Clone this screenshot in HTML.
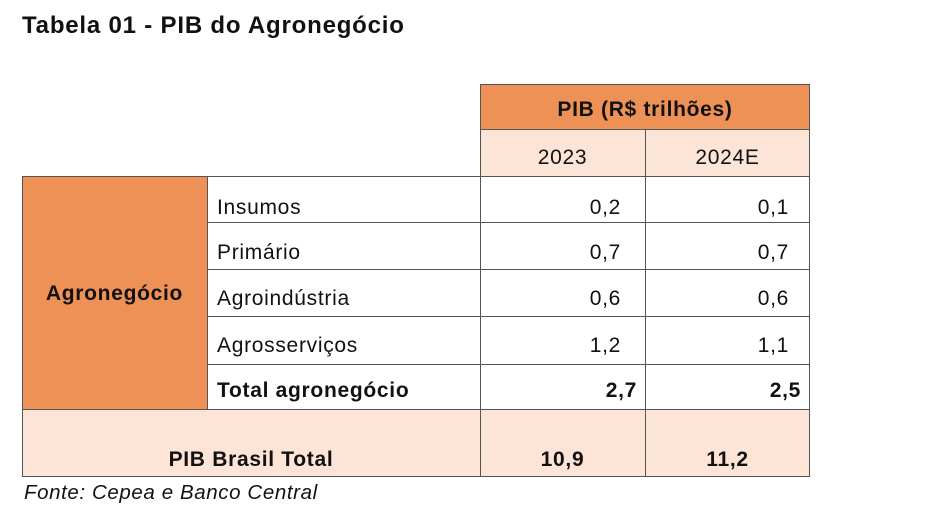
<!DOCTYPE html>
<html><head><meta charset="utf-8"><style>
body{margin:0;width:934px;height:522px;background:#fff;font-family:"Liberation Sans",sans-serif;color:#111;position:relative;overflow:hidden}
.a{position:absolute;box-sizing:border-box}
.t{position:absolute;white-space:nowrap;font-size:21px;line-height:24px;letter-spacing:0.7px}
.ln{position:absolute;background:#555}
</style></head><body>
<div class="t" style="left:22px;top:14px;font-size:24px;font-weight:bold;letter-spacing:0.8px">Tabela 01 - PIB do Agronegócio</div>

<div class="a" style="left:480px;top:84px;width:330px;height:46px;background:#EE9157;border:1px solid #555"></div>
<div class="t" style="left:480px;top:98px;width:330px;text-align:center;font-weight:bold">PIB (R$ trilhões)</div>
<div class="a" style="left:480px;top:130px;width:330px;height:46px;background:#FCE4D6"></div>
<div class="t" style="left:480px;top:146px;width:165px;text-align:center">2023</div>
<div class="t" style="left:645px;top:146px;width:165px;text-align:center">2024E</div>

<div class="a" style="left:22px;top:176px;width:185px;height:233px;background:#EE9157"></div>
<div class="t" style="left:22px;top:282px;width:185px;text-align:center;font-weight:bold">Agronegócio</div>
<div class="a" style="left:22px;top:409px;width:788px;height:67px;background:#FCE4D6"></div>

<div class="ln" style="left:22px;top:176px;width:788px;height:1px"></div>
<div class="ln" style="left:207px;top:222px;width:603px;height:1px"></div>
<div class="ln" style="left:207px;top:269px;width:603px;height:1px"></div>
<div class="ln" style="left:207px;top:316px;width:603px;height:1px"></div>
<div class="ln" style="left:207px;top:364px;width:603px;height:1px"></div>
<div class="ln" style="left:22px;top:409px;width:788px;height:1px"></div>
<div class="ln" style="left:22px;top:476px;width:788px;height:1px"></div>
<div class="ln" style="left:22px;top:176px;width:1px;height:301px"></div>
<div class="ln" style="left:207px;top:176px;width:1px;height:233px"></div>
<div class="ln" style="left:480px;top:84px;width:1px;height:393px"></div>
<div class="ln" style="left:645px;top:130px;width:1px;height:347px"></div>
<div class="ln" style="left:809px;top:84px;width:1px;height:393px"></div>

<div class="t" style="left:217px;top:196px">Insumos</div>
<div class="t" style="left:480px;top:196px;width:141px;text-align:right">0,2</div>
<div class="t" style="left:645px;top:196px;width:144px;text-align:right">0,1</div>

<div class="t" style="left:217px;top:241px">Primário</div>
<div class="t" style="left:480px;top:241px;width:141px;text-align:right">0,7</div>
<div class="t" style="left:645px;top:241px;width:144px;text-align:right">0,7</div>

<div class="t" style="left:217px;top:287px">Agroindústria</div>
<div class="t" style="left:480px;top:287px;width:141px;text-align:right">0,6</div>
<div class="t" style="left:645px;top:287px;width:144px;text-align:right">0,6</div>

<div class="t" style="left:217px;top:334px">Agrosserviços</div>
<div class="t" style="left:480px;top:334px;width:141px;text-align:right">1,2</div>
<div class="t" style="left:645px;top:334px;width:144px;text-align:right">1,1</div>

<div class="t" style="left:217px;top:379px;font-weight:bold">Total agronegócio</div>
<div class="t" style="left:480px;top:379px;width:157px;text-align:right;font-weight:bold">2,7</div>
<div class="t" style="left:645px;top:379px;width:156px;text-align:right;font-weight:bold">2,5</div>

<div class="t" style="left:22px;top:448px;width:458px;text-align:center;font-weight:bold">PIB Brasil Total</div>
<div class="t" style="left:480px;top:448px;width:165px;text-align:center;font-weight:bold">10,9</div>
<div class="t" style="left:645px;top:448px;width:165px;text-align:center;font-weight:bold">11,2</div>

<div class="t" style="left:24px;top:481px;font-style:italic;font-size:20.5px;letter-spacing:0.6px">Fonte: Cepea e Banco Central</div>
</body></html>
